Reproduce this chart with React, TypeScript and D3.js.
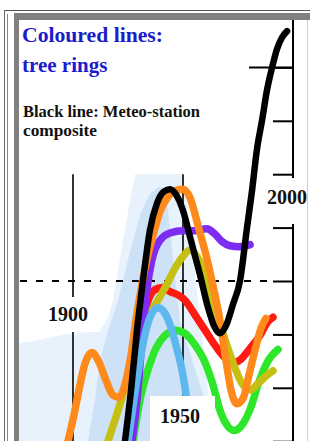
import React, { useEffect, useRef } from "react";
import * as d3 from "d3";

type Pt = [number, number]; // [year, anomaly in °C]

// meteo-station composite (black)
const meteo: Pt[] = [
  [1923.6, -1.5], [1926.4, -1.02], [1929.1, -0.46], [1931.8, 0.0], [1935.0, 0.48],
  [1938.2, 0.73], [1941.4, 0.84], [1944.1, 0.86], [1946.8, 0.81], [1950.0, 0.66],
  [1953.6, 0.38], [1957.7, 0.06], [1961.4, -0.25], [1964.1, -0.42], [1966.8, -0.49],
  [1969.5, -0.42], [1972.7, -0.22], [1975.9, 0.0], [1979.1, 0.5], [1981.4, 0.85],
  [1983.6, 1.23], [1985.9, 1.5], [1988.2, 1.79], [1990.5, 2.0], [1992.7, 2.17],
  [1995.0, 2.28], [1997.3, 2.34],
];

// tree ring series
const orangeRing: Pt[] = [
  [1897.7, -1.5], [1900.5, -1.25], [1903.2, -0.97], [1905.5, -0.77], [1908.6, -0.67],
  [1911.8, -0.76], [1915.0, -0.93], [1918.2, -1.07], [1920.9, -1.09], [1923.6, -0.97],
  [1926.4, -0.69], [1928.6, -0.37], [1930.9, -0.08], [1933.6, 0.2], [1936.4, 0.43],
  [1939.5, 0.65], [1943.2, 0.79], [1946.8, 0.85], [1950.0, 0.86], [1953.2, 0.78],
  [1956.8, 0.52], [1960.5, 0.24], [1963.6, -0.04], [1966.8, -0.37], [1969.5, -0.74],
  [1971.8, -1.02], [1974.5, -1.15], [1977.3, -1.1], [1980.0, -0.88], [1982.7, -0.65],
  [1985.5, -0.44], [1987.7, -0.35],
];
const purpleRing: Pt[] = [
  [1926.8, -1.5], [1929.1, -1.11], [1931.4, -0.55], [1933.6, -0.08], [1935.9, 0.2],
  [1939.5, 0.38], [1944.1, 0.45], [1950.0, 0.47], [1955.5, 0.47], [1960.9, 0.49],
  [1964.5, 0.44], [1967.7, 0.37], [1971.4, 0.33], [1975.9, 0.32], [1980.5, 0.34],
];
const oliveRing: Pt[] = [
  [1915.9, -1.5], [1920.5, -1.21], [1925.0, -0.91], [1929.5, -0.6], [1934.1, -0.35],
  [1938.6, -0.18], [1942.7, -0.03], [1946.4, 0.12], [1950.0, 0.23], [1953.2, 0.29],
  [1956.4, 0.23], [1960.0, 0.06], [1963.6, -0.18], [1967.7, -0.46], [1972.3, -0.74],
  [1976.8, -0.96], [1980.5, -1.02], [1984.1, -0.96], [1987.7, -0.89], [1990.9, -0.84],
];
const redRing: Pt[] = [
  [1928.2, -0.93], [1930.5, -0.55], [1933.6, -0.22], [1937.3, -0.08], [1940.5, -0.06],
  [1944.1, -0.1], [1947.7, -0.13], [1950.9, -0.18], [1955.5, -0.32], [1960.0, -0.46],
  [1964.5, -0.6], [1969.1, -0.72], [1972.3, -0.77], [1975.9, -0.74], [1980.5, -0.63],
  [1985.0, -0.51], [1988.6, -0.38], [1990.9, -0.34],
];
const cyanRing: Pt[] = [
  [1925.0, -1.5], [1927.7, -1.11], [1930.5, -0.74], [1933.2, -0.46], [1935.9, -0.3],
  [1938.6, -0.25], [1941.4, -0.29], [1944.1, -0.41], [1946.8, -0.6], [1949.5, -0.83],
  [1951.4, -1.07], [1952.3, -1.25],
];
const greenRing: Pt[] = [
  [1927.3, -1.5], [1930.5, -1.11], [1934.1, -0.83], [1937.7, -0.63], [1941.8, -0.51],
  [1946.4, -0.46], [1950.9, -0.49], [1955.5, -0.6], [1960.0, -0.76], [1963.6, -0.97],
  [1966.8, -1.21], [1970.0, -1.35], [1973.2, -1.4], [1976.4, -1.36], [1980.9, -1.18],
  [1984.1, -0.97], [1988.6, -0.75], [1993.2, -0.64],
];

// uncertainty envelopes (outlines)
const outerBand: Pt[] = [
  [1875.5, -0.58], [1882.7, -0.56], [1894.1, -0.51], [1912.3, -0.46], [1915.9, -0.35],
  [1918.2, -0.18], [1922.7, 0.38], [1928.2, 1.0], [1950.0, 1.0], [1953.2, 0.48],
  [1956.8, -0.18], [1960.5, -0.83], [1963.2, -1.5], [1875.5, -1.5],
];
const innerBand: Pt[] = [
  [1906.8, -1.5], [1910.0, -1.11], [1912.3, -0.74], [1915.9, -0.46], [1920.5, -0.18],
  [1925.0, 0.2], [1930.5, 0.62], [1935.0, 0.82], [1939.5, 0.89], [1942.7, 0.76],
  [1945.5, 0.2], [1948.6, -0.37], [1955.5, -0.83], [1960.0, -1.11], [1960.0, -1.5],
];

const tickValues = [-1.5, -1.0, -0.5, 0, 0.5, 1.0, 1.5, 2.0];
const decadeMarks = [1900, 1950];
const yearLabels = ["1900", "1950", "2000"];

const rings = [
  { color: "#2ee62a", pts: greenRing },
  { color: "#ff1a12", pts: redRing },
  { color: "#c6c014", pts: oliveRing },
  { color: "#7f2cf2", pts: purpleRing },
  { color: "#5db8ee", pts: cyanRing },
  { color: "#ff8a1c", pts: orangeRing },
];

const W = 310;
const H = 441;

const App: React.FC = () => {
  const ref = useRef<SVGSVGElement | null>(null);

  useEffect(() => {
    const svg = d3.select(ref.current);
    svg.selectAll("*").remove();

    const x = d3.scaleLinear().domain([1900, 2000]).range([73, 293]);
    const y = d3.scaleLinear().domain([-1.5, 2.0]).range([441.2, 67.4]);

    svg.append("rect").attr("width", W).attr("height", H).attr("fill", "#fff");

    svg.append("clipPath").attr("id", "plot")
      .append("rect").attr("x", 19).attr("y", 20).attr("width", W - 19).attr("height", H - 20);

    const g = svg.append("g").attr("clip-path", "url(#plot)");

    const poly = d3.line<Pt>().x(d => x(d[0])).y(d => y(d[1])).curve(d3.curveLinearClosed);
    g.append("path").attr("d", poly(outerBand)).attr("fill", "#e8f2fc");
    g.append("path").attr("d", poly(innerBand)).attr("fill", "#cde2f7");

    // decade lines
    g.selectAll(".dec").data(decadeMarks).enter().append("line")
      .attr("x1", d => x(d)).attr("x2", d => x(d))
      .attr("y1", y(1.0)).attr("y2", H)
      .attr("stroke", "#000").attr("stroke-width", 1.6);

    // zero line
    g.append("line")
      .attr("x1", 20).attr("x2", x(2000) - 20)
      .attr("y1", y(0)).attr("y2", y(0))
      .attr("stroke", "#000").attr("stroke-width", 2)
      .attr("stroke-dasharray", "7 9");

    // right axis
    g.append("line")
      .attr("x1", x(2000)).attr("x2", x(2000)).attr("y1", 20).attr("y2", H)
      .attr("stroke", "#000").attr("stroke-width", 2);
    const axis = d3.axisLeft(y).tickValues(tickValues).tickSize(20).tickFormat(() => "");
    const ag = g.append("g").attr("transform", `translate(${x(2000)},0)`).call(axis);
    ag.select(".domain").remove();
    ag.selectAll(".tick line").attr("stroke", "#000").attr("stroke-width", 2);
    g.append("line")
      .attr("x1", x(2000) - 44).attr("x2", x(2000))
      .attr("y1", y(2.0)).attr("y2", y(2.0))
      .attr("stroke", "#000").attr("stroke-width", 2);

    const line = d3.line<Pt>().x(d => x(d[0])).y(d => y(d[1])).curve(d3.curveMonotoneX);

    rings.forEach(r => {
      g.append("path").attr("d", line(r.pts)).attr("fill", "none")
        .attr("stroke", r.color).attr("stroke-width", 7.5)
        .attr("stroke-linecap", "round").attr("stroke-linejoin", "round");
    });
    g.append("path").attr("d", line(meteo)).attr("fill", "none")
      .attr("stroke", "#000").attr("stroke-width", 6.5)
      .attr("stroke-linecap", "round").attr("stroke-linejoin", "round");

    // year label boxes
    const boxes = [
      { x: 38, y: 297, w: 62, h: 35 },
      { x: 150, y: 396, w: 65, h: 45 },
      { x: 263, y: 178, w: 44, h: 46 },
    ];
    boxes.forEach(b => {
      g.append("rect").attr("x", b.x).attr("y", b.y).attr("width", b.w).attr("height", b.h).attr("fill", "#fff");
    });
    const labelPos = [
      { x: x(1900) - 5, y: 321 },
      { x: x(1950) - 3, y: 423 },
      { x: x(2000) - 6, y: 204 },
    ];
    yearLabels.forEach((t, i) => {
      g.append("text").attr("x", labelPos[i].x).attr("y", labelPos[i].y)
        .attr("text-anchor", "middle")
        .attr("font-family", "'Liberation Serif', 'Times New Roman', serif")
        .attr("font-weight", "bold").attr("font-size", 20).attr("fill", "#111")
        .text(t);
    });

    // titles
    const serif = "'Liberation Serif', 'Times New Roman', serif";
    svg.append("text").attr("x", 22).attr("y", 42).attr("font-family", serif)
      .attr("font-weight", "bold").attr("font-size", 21).attr("fill", "#1c1ccc")
      .attr("textLength", 141).attr("lengthAdjust", "spacingAndGlyphs")
      .text("Coloured lines:");
    svg.append("text").attr("x", 22).attr("y", 72).attr("font-family", serif)
      .attr("font-weight", "bold").attr("font-size", 21).attr("fill", "#1c1ccc")
      .text("tree rings");
    svg.append("text").attr("x", 23).attr("y", 117).attr("font-family", serif)
      .attr("font-weight", "bold").attr("font-size", 17).attr("fill", "#111")
      .attr("textLength", 177).attr("lengthAdjust", "spacingAndGlyphs")
      .text("Black line: Meteo-station");
    svg.append("text").attr("x", 23).attr("y", 136).attr("font-family", serif)
      .attr("font-weight", "bold").attr("font-size", 17).attr("fill", "#111")
      .attr("textLength", 74).attr("lengthAdjust", "spacingAndGlyphs")
      .text("composite");

    // frame
    svg.append("line").attr("x1", 4).attr("x2", W).attr("y1", 10.5).attr("y2", 10.5)
      .attr("stroke", "#555").attr("stroke-width", 1);
    svg.append("line").attr("x1", 4.5).attr("x2", 4.5).attr("y1", 10).attr("y2", H)
      .attr("stroke", "#666").attr("stroke-width", 1);
    svg.append("line").attr("x1", 7.5).attr("x2", 7.5).attr("y1", 14).attr("y2", H)
      .attr("stroke", "#888").attr("stroke-width", 1);
    svg.append("line").attr("x1", 307.5).attr("x2", 307.5).attr("y1", 20).attr("y2", H)
      .attr("stroke", "#d0d0d0").attr("stroke-width", 1);
    svg.append("rect").attr("x", 14).attr("y", 13).attr("width", W - 14).attr("height", 7).attr("fill", "#808080");
    svg.append("rect").attr("x", 14).attr("y", 13).attr("width", 5).attr("height", H - 13).attr("fill", "#808080");
  }, []);

  return (
    <svg ref={ref} width={W} height={H}
      style={{ position: "fixed", left: 0, top: 0, display: "block" }} />
  );
};

export default App;
